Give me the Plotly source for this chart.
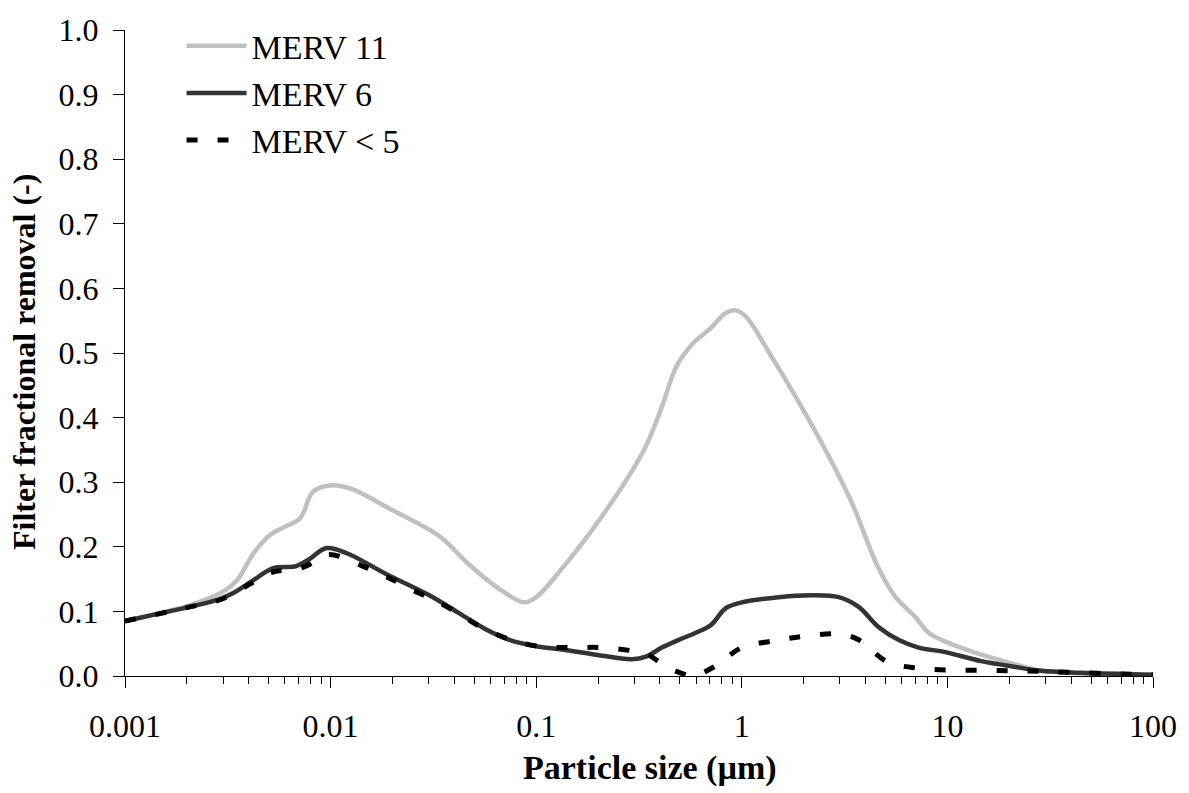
import plotly.graph_objects as go

# Particle sizes (µm) and fractional removal per filter class
size_merv11 = [0.001, 0.0015, 0.002, 0.0029, 0.0035, 0.0042, 0.0051, 0.0059, 0.0071, 0.0082,
               0.0099, 0.0128, 0.0186, 0.030, 0.035, 0.047, 0.068, 0.0875, 0.1, 0.134,
               0.195, 0.283, 0.342, 0.409, 0.479, 0.572, 0.708, 0.836, 0.935, 1.05,
               1.35, 1.83, 2.64, 3.42, 4.62, 5.6, 7.0, 8.1, 10, 14.6, 21.4, 28.6, 45, 100]
removal_merv11 = [0.085, 0.098, 0.108, 0.128, 0.148, 0.189, 0.219, 0.230, 0.244, 0.285,
                  0.295, 0.289, 0.262, 0.227, 0.213, 0.173, 0.132, 0.114, 0.122, 0.167,
                  0.234, 0.310, 0.356, 0.417, 0.478, 0.513, 0.539, 0.562, 0.566, 0.556,
                  0.502, 0.432, 0.341, 0.269, 0.167, 0.122, 0.091, 0.067, 0.052, 0.033,
                  0.018, 0.008, 0.004, 0.002]

size_merv6 = [0.001, 0.00148, 0.00207, 0.00289, 0.00334, 0.0042, 0.00525, 0.0068, 0.0078, 0.00955,
              0.012, 0.0186, 0.0302, 0.0423, 0.0571, 0.074, 0.1, 0.134, 0.195, 0.292,
              0.342, 0.409, 0.494, 0.598, 0.708, 0.836, 1.0, 1.51, 2.19, 2.96,
              3.7, 4.62, 5.78, 7.24, 9.78, 14.6, 21.4, 28.6, 44.7, 100]
removal_merv6 = [0.085, 0.097, 0.107, 0.119, 0.128, 0.148, 0.167, 0.170, 0.180, 0.198,
                 0.190, 0.158, 0.125, 0.097, 0.072, 0.056, 0.046, 0.041, 0.033, 0.026,
                 0.030, 0.044, 0.056, 0.067, 0.079, 0.105, 0.114, 0.122, 0.125, 0.122,
                 0.107, 0.076, 0.056, 0.044, 0.037, 0.023, 0.014, 0.008, 0.005, 0.002]

size_merv5 = [0.001, 0.0015, 0.002, 0.0029, 0.0042, 0.00525, 0.0068, 0.0078, 0.0097, 0.0146,
              0.02, 0.027, 0.0313, 0.0423, 0.0517, 0.0723, 0.103, 0.148, 0.209, 0.305,
              0.35, 0.427, 0.522, 0.58, 0.73, 1.0, 1.48, 2.07, 3.02, 3.7,
              4.23, 5.17, 7.24, 10.3, 14.6, 21, 29.9, 45, 70, 100]
removal_merv5 = [0.085, 0.097, 0.106, 0.118, 0.145, 0.161, 0.165, 0.172, 0.188, 0.169,
                 0.149, 0.128, 0.119, 0.096, 0.079, 0.058, 0.046, 0.044, 0.044, 0.038,
                 0.033, 0.015, 0.003, 0.0, 0.014, 0.044, 0.055, 0.062, 0.065, 0.056,
                 0.041, 0.021, 0.012, 0.009, 0.009, 0.008, 0.007, 0.005, 0.003, 0.002]

x_tick_vals = [0.001, 0.01, 0.1, 1, 10, 100]
x_tick_text = ["0.001", "0.01", "0.1", "1", "10", "100"]
y_tick_vals = [0.0, 0.1, 0.2, 0.3, 0.4, 0.5, 0.6, 0.7, 0.8, 0.9, 1.0]

FONT = "Liberation Serif"

fig = go.Figure()
fig.add_trace(go.Scatter(x=size_merv11, y=removal_merv11, mode="lines", name="MERV 11",
                         line=dict(color="#c0c0c0", width=4.5, shape="spline", smoothing=1.0)))
fig.add_trace(go.Scatter(x=size_merv6, y=removal_merv6, mode="lines", name="MERV 6",
                         line=dict(color="#333333", width=4.5, shape="spline", smoothing=1.0)))
fig.add_trace(go.Scatter(x=size_merv5, y=removal_merv5, mode="lines", name="MERV < 5",
                         line=dict(color="#000000", width=5, dash="11px,20px",
                                   shape="spline", smoothing=1.0)))

fig.update_layout(
    width=1189, height=793,
    margin=dict(l=125, r=36, t=20, b=117),
    paper_bgcolor="white", plot_bgcolor="white",
    font=dict(family=FONT, size=32, color="black"),
    showlegend=True,
    legend=dict(x=0.055, y=1.02, xanchor="left", yanchor="top",
                bgcolor="rgba(0,0,0,0)", font=dict(family=FONT, size=34),
                itemwidth=60, tracegroupgap=0),
    annotations=[
        # axis titles
        dict(text="<b>Particle size (µm)</b>", xref="paper", yref="paper",
             x=0.511, y=0, xanchor="center", yanchor="middle", yshift=-92,
             showarrow=False, font=dict(family=FONT, size=34)),
        dict(text="<b>Filter fractional removal (-)</b>", xref="paper", yref="paper",
             x=0, y=0.486, xanchor="center", yanchor="middle", xshift=-101,
             textangle=-90, showarrow=False, font=dict(family=FONT, size=32)),
    ],
)

fig.update_xaxes(
    type="log", range=[-3, 2],
    tickvals=x_tick_vals, ticktext=x_tick_text,
    tickfont=dict(family=FONT, size=32),
    ticks="outside", ticklen=11, tickcolor="black", tickwidth=1,
    ticklabelstandoff=11,
    minor=dict(ticks="outside", ticklen=7, dtick="D1", tickcolor="black", showgrid=False),
    showline=True, linecolor="black", linewidth=1,
    showgrid=False, zeroline=False,
)
fig.update_yaxes(
    range=[0, 1],
    tickvals=y_tick_vals, tickformat=".1f",
    tickfont=dict(family=FONT, size=32),
    ticks="outside", ticklen=11, tickcolor="black", tickwidth=1,
    ticklabelstandoff=8,
    showline=True, linecolor="black", linewidth=1,
    showgrid=False, zeroline=False,
)

fig.write_html("out.html")
